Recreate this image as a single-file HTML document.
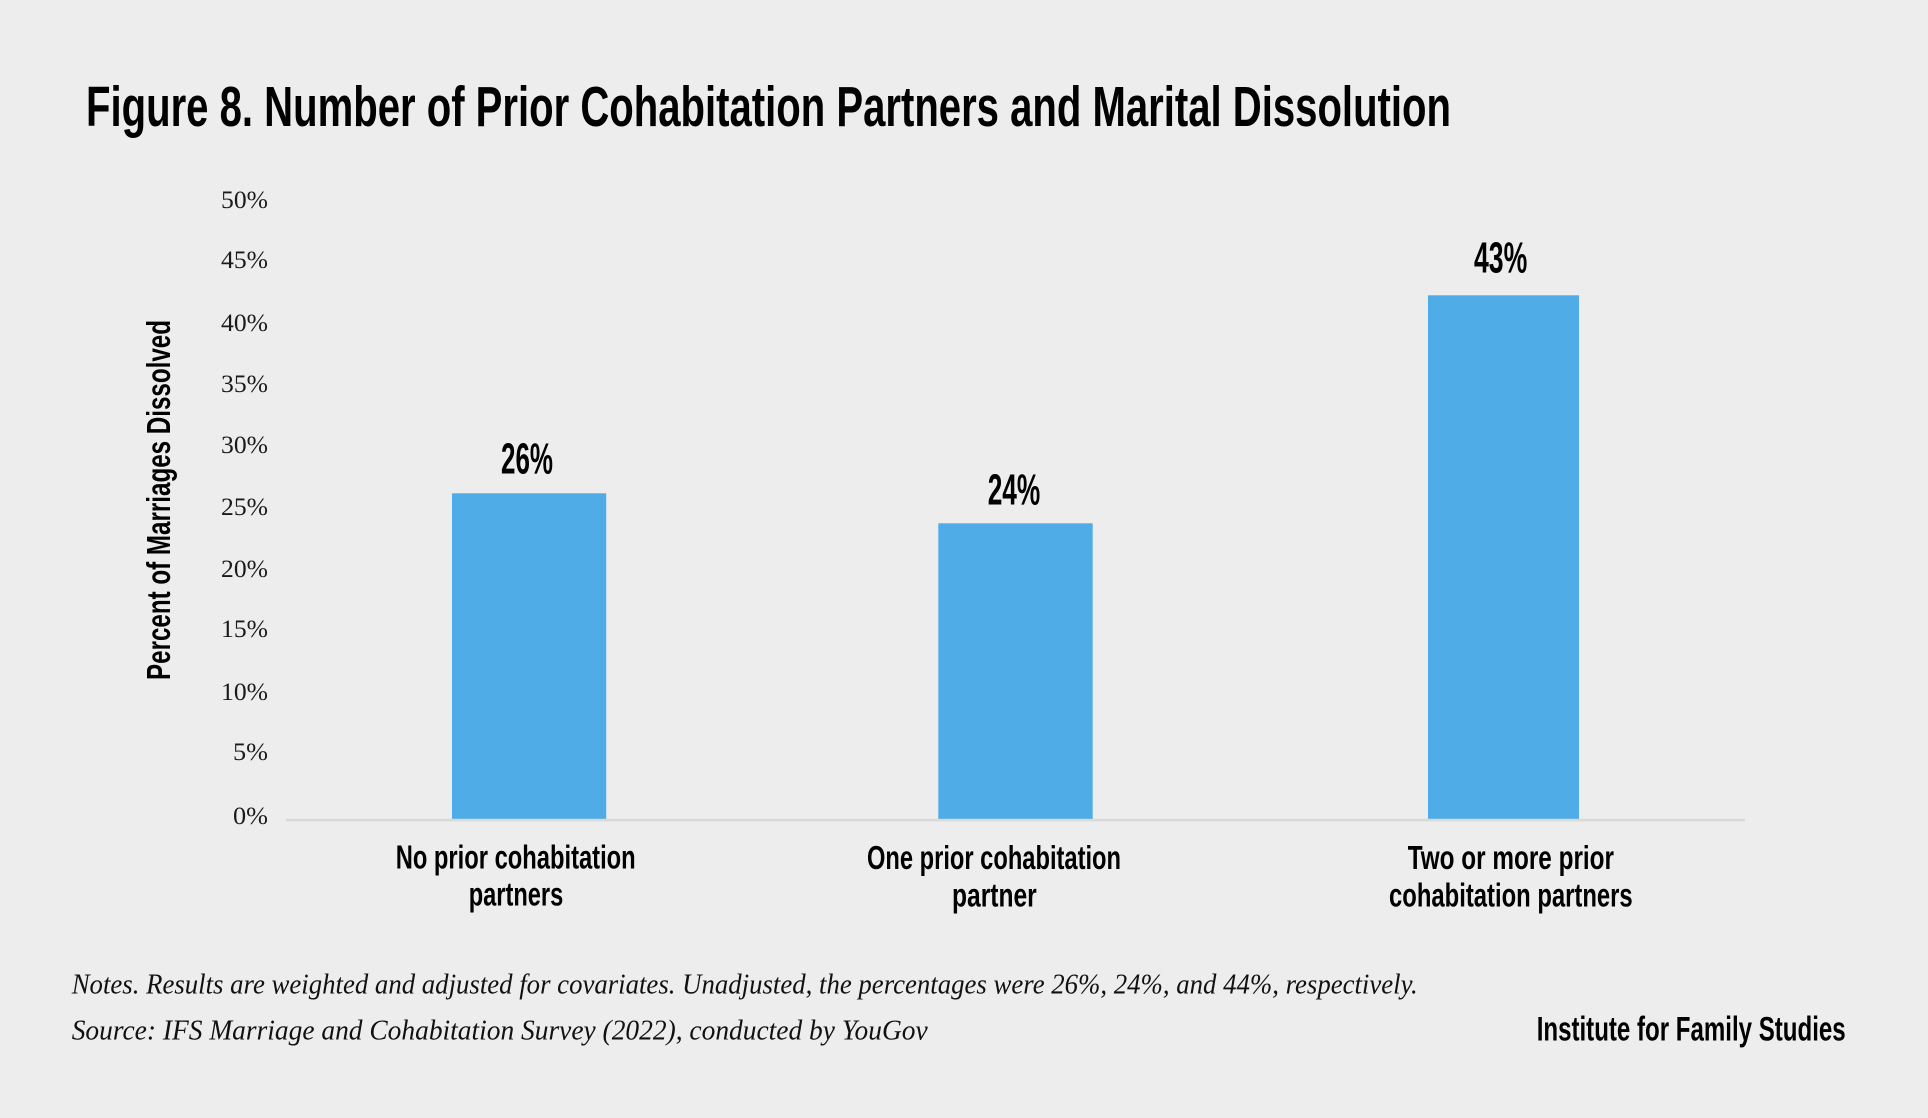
<!DOCTYPE html>
<html>
<head>
<meta charset="utf-8">
<style>
  html, body { margin:0; padding:0; background:#ededed; }
  body { width:1928px; height:1118px; overflow:hidden; }
  svg { display:block; }
  .b { font-family:"Liberation Sans", "DejaVu Sans", sans-serif; font-weight:bold; fill:#000; }
  .t { font-family:"Liberation Serif", "DejaVu Serif", serif; fill:#1a1a1a; font-size:25px; }
  .n { font-family:"Liberation Serif", "DejaVu Serif", serif; font-style:italic; fill:#111; font-size:28px; }
</style>
</head>
<body>
<svg width="1928" height="1118" viewBox="0 0 1928 1118" xmlns="http://www.w3.org/2000/svg">
  <rect x="0" y="0" width="1928" height="1118" fill="#ededed"/>

  <!-- Title -->
  <text class="b" x="86" y="126" font-size="57" textLength="1365" lengthAdjust="spacingAndGlyphs">Figure 8. Number of Prior Cohabitation Partners and Marital Dissolution</text>

  <!-- Y axis title -->
  <text class="b" font-size="33" text-anchor="middle" transform="translate(170,500) rotate(-90)" textLength="360" lengthAdjust="spacingAndGlyphs">Percent of Marriages Dissolved</text>

  <!-- Tick labels -->
  <g class="t" text-anchor="end">
    <text x="268" y="208" textLength="47" lengthAdjust="spacingAndGlyphs">50%</text>
    <text x="268" y="268" textLength="47" lengthAdjust="spacingAndGlyphs">45%</text>
    <text x="268" y="331" textLength="47" lengthAdjust="spacingAndGlyphs">40%</text>
    <text x="268" y="392" textLength="47" lengthAdjust="spacingAndGlyphs">35%</text>
    <text x="268" y="453" textLength="47" lengthAdjust="spacingAndGlyphs">30%</text>
    <text x="268" y="515" textLength="47" lengthAdjust="spacingAndGlyphs">25%</text>
    <text x="268" y="577" textLength="47" lengthAdjust="spacingAndGlyphs">20%</text>
    <text x="268" y="637" textLength="47" lengthAdjust="spacingAndGlyphs">15%</text>
    <text x="268" y="700" textLength="47" lengthAdjust="spacingAndGlyphs">10%</text>
    <text x="268" y="760" textLength="35" lengthAdjust="spacingAndGlyphs">5%</text>
    <text x="268" y="824" textLength="35" lengthAdjust="spacingAndGlyphs">0%</text>
  </g>

  <!-- Bars -->
  <rect x="452" y="493.3" width="154.2" height="325.7" fill="#4face7"/>
  <rect x="938.3" y="523.3" width="154.4" height="295.7" fill="#4face7"/>
  <rect x="1428" y="295.3" width="151" height="523.7" fill="#4face7"/>

  <!-- Axis line -->
  <rect x="286" y="818.8" width="1459" height="2.6" fill="#d9d9d9"/>

  <!-- Value labels -->
  <text class="b" x="501" y="473.3" font-size="44" textLength="52" lengthAdjust="spacingAndGlyphs">26%</text>
  <text class="b" x="987.7" y="504.3" font-size="44" textLength="52.6" lengthAdjust="spacingAndGlyphs">24%</text>
  <text class="b" x="1474" y="272.7" font-size="44" textLength="53.3" lengthAdjust="spacingAndGlyphs">43%</text>

  <!-- Category labels -->
  <g class="b" font-size="33">
    <text x="395.7" y="868.5" textLength="240" lengthAdjust="spacingAndGlyphs">No prior cohabitation</text>
    <text x="468.7" y="905.5" textLength="94.6" lengthAdjust="spacingAndGlyphs">partners</text>
    <text x="867" y="869" textLength="254" lengthAdjust="spacingAndGlyphs">One prior cohabitation</text>
    <text x="952" y="906.5" textLength="84.7" lengthAdjust="spacingAndGlyphs">partner</text>
    <text x="1407.7" y="869" textLength="206.3" lengthAdjust="spacingAndGlyphs">Two or more prior</text>
    <text x="1389" y="906.5" textLength="243.7" lengthAdjust="spacingAndGlyphs">cohabitation partners</text>
  </g>

  <!-- Notes -->
  <text class="n" x="71.7" y="993.3" textLength="1346" lengthAdjust="spacingAndGlyphs">Notes. Results are weighted and adjusted for covariates. Unadjusted, the percentages were 26%, 24%, and 44%, respectively.</text>
  <text class="n" x="71.7" y="1039.5" textLength="856" lengthAdjust="spacingAndGlyphs">Source: IFS Marriage and Cohabitation Survey (2022), conducted by YouGov</text>

  <!-- Footer -->
  <text class="b" x="1536.7" y="1040.7" font-size="34" textLength="309" lengthAdjust="spacingAndGlyphs">Institute for Family Studies</text>
</svg>
</body>
</html>
